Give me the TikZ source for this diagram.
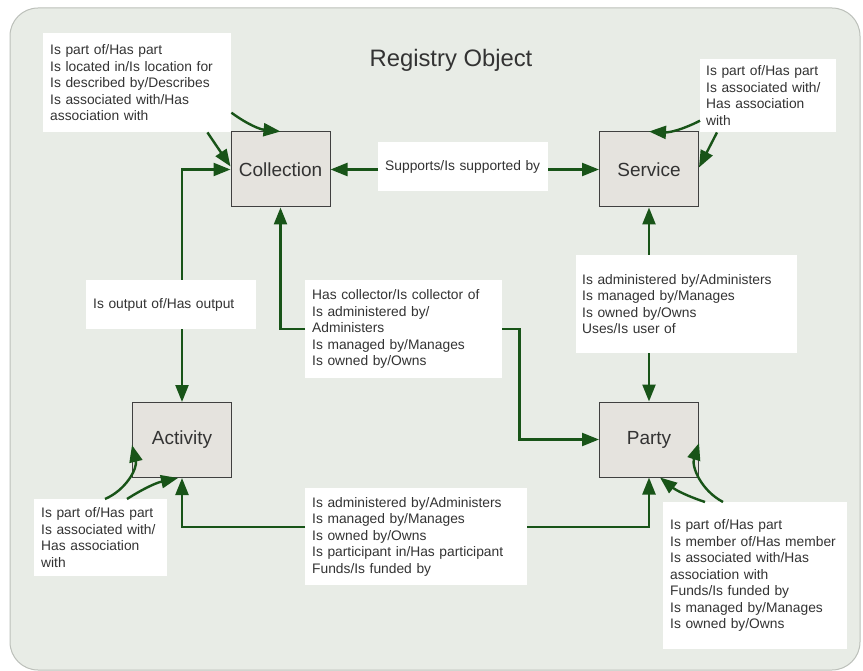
\documentclass[tikz,border=0pt]{standalone}
\usepackage{fontspec}
\setmainfont{Liberation Sans}
\usetikzlibrary{arrows.meta}
\definecolor{regbg}{HTML}{E8ECE6}
\definecolor{regline}{HTML}{BCC0BA}
\definecolor{boxfill}{HTML}{E5E3DE}
\definecolor{linkgreen}{HTML}{185418}
\definecolor{txtgray}{HTML}{333333}
\newcommand\relsize{\fontsize{13.8}{16.5}\selectfont}
\begin{document}
\begin{tikzpicture}[x=1pt,y=-1pt,
    entity/.style={draw=black!75,line width=1pt,fill=boxfill,minimum width=99pt,minimum height=75pt,
      font=\fontsize{19}{22}\selectfont,text=txtgray},
    rel/.style={fill=white,anchor=north west,align=left,inner xsep=7pt,inner ysep=0pt,
      font=\relsize,text=txtgray},
    link/.style={draw=linkgreen,line width=2.4pt,-{Triangle[length=17pt,width=13pt]}},
    wire/.style={draw=linkgreen,line width=2.4pt}]
  \useasboundingbox (0,0) rectangle (863,671);
  \draw[fill=regbg,draw=regline,line width=1pt,rounded corners=28pt] (10,8) rectangle (860,670);
  \node[text=txtgray,font=\fontsize{23.8}{27}\selectfont] (title) at (451,60) {Registry Object};
  \foreach \n/\x/\y/\t in {coll/280.5/169.5/Collection,serv/649/169.5/Service,
                           act/182/440/Activity,party/649/439.5/Party}
    \node[entity] (\n) at (\x,\y) {\t};
  % relation labels
  \node[rel,text width=174pt,minimum height=99pt] (lcoll) at (43,33)
    {Is part of/Has part\\Is located in/Is location for\\Is described by/Describes\\Is associated with/Has\\association with};
  \node[rel,text width=156pt,minimum height=49pt] (lsup) at (378,142) {Supports/Is supported by};
  \node[rel,text width=124pt,minimum height=73pt,inner xsep=6pt] (lserv) at (700,59)
    {Is part of/Has part\\Is associated with/\\Has association\\with};
  \node[rel,text width=156pt,minimum height=49pt] (lout) at (86,280) {Is output of/Has output};
  \node[rel,text width=183pt,minimum height=98pt] (lcp) at (305,280)
    {Has collector/Is collector of\\Is administered by/\\Administers\\Is managed by/Manages\\Is owned by/Owns};
  \node[rel,text width=209pt,minimum height=98pt,inner xsep=6pt] (lsp) at (576,255)
    {Is administered by/Administers\\Is managed by/Manages\\Is owned by/Owns\\Uses/Is user of};
  \node[rel,text width=119pt,minimum height=77pt] (lact) at (34,499)
    {Is part of/Has part\\Is associated with/\\Has association\\with};
  \node[rel,text width=208pt,minimum height=97pt] (lap) at (305,488)
    {Is administered by/Administers\\Is managed by/Manages\\Is owned by/Owns\\Is participant in/Has participant\\Funds/Is funded by};
  \node[rel,text width=170pt,minimum height=147pt] (lparty) at (663,502)
    {Is part of/Has part\\Is member of/Has member\\Is associated with/Has\\association with\\Funds/Is funded by\\Is managed by/Manages\\Is owned by/Owns};
  % self relations
  \draw[link] ([yshift=-30pt]lcoll.east) to[bend right=15] (coll.north);
  \draw[link] ([xshift=-24pt]lcoll.south east) -- ([yshift=3pt]coll.west);
  \draw[link] ([yshift=-25pt]lserv.west) to[bend left=15] (serv.north);
  \draw[link] ([xshift=17pt]lserv.south west) -- ([yshift=2pt]serv.east);
  \draw[link] ([xshift=71pt]lact.north west) to[bend right=40] ([yshift=-5pt]act.west);
  \draw[link] ([xshift=93pt]lact.north west) to[bend left=10] ([xshift=-4pt]act.south);
  \draw[link] ([xshift=42pt]lparty.north west) to[bend left=10] ([xshift=11pt]party.south);
  \draw[link] ([xshift=60pt]lparty.north west) to[bend left=40] ([yshift=-3.5pt]party.east);
  % pairs
  \draw[link] (lsup.west |- coll) -- (coll.east);
  \draw[link] (lsup.east |- serv) -- (serv.west);
  \draw[link] (act.north |- lout.north) |- (coll.west);
  \draw[link] (act.north |- lout.south) -- (act.north);
  \draw[link] (lcp.west) -| (coll.south);
  \draw[link] (lcp.east) -- ++(17,0) |- (party.west);
  \draw[link] (serv.south |- lsp.north) -- (serv.south);
  \draw[link] (serv.south |- lsp.south) -- (party.north);
  \draw[link] ([yshift=10pt]lap.west) -| (act.south);
  \draw[link] ([yshift=10pt]lap.east) -| (party.south);
\end{tikzpicture}
\end{document}
